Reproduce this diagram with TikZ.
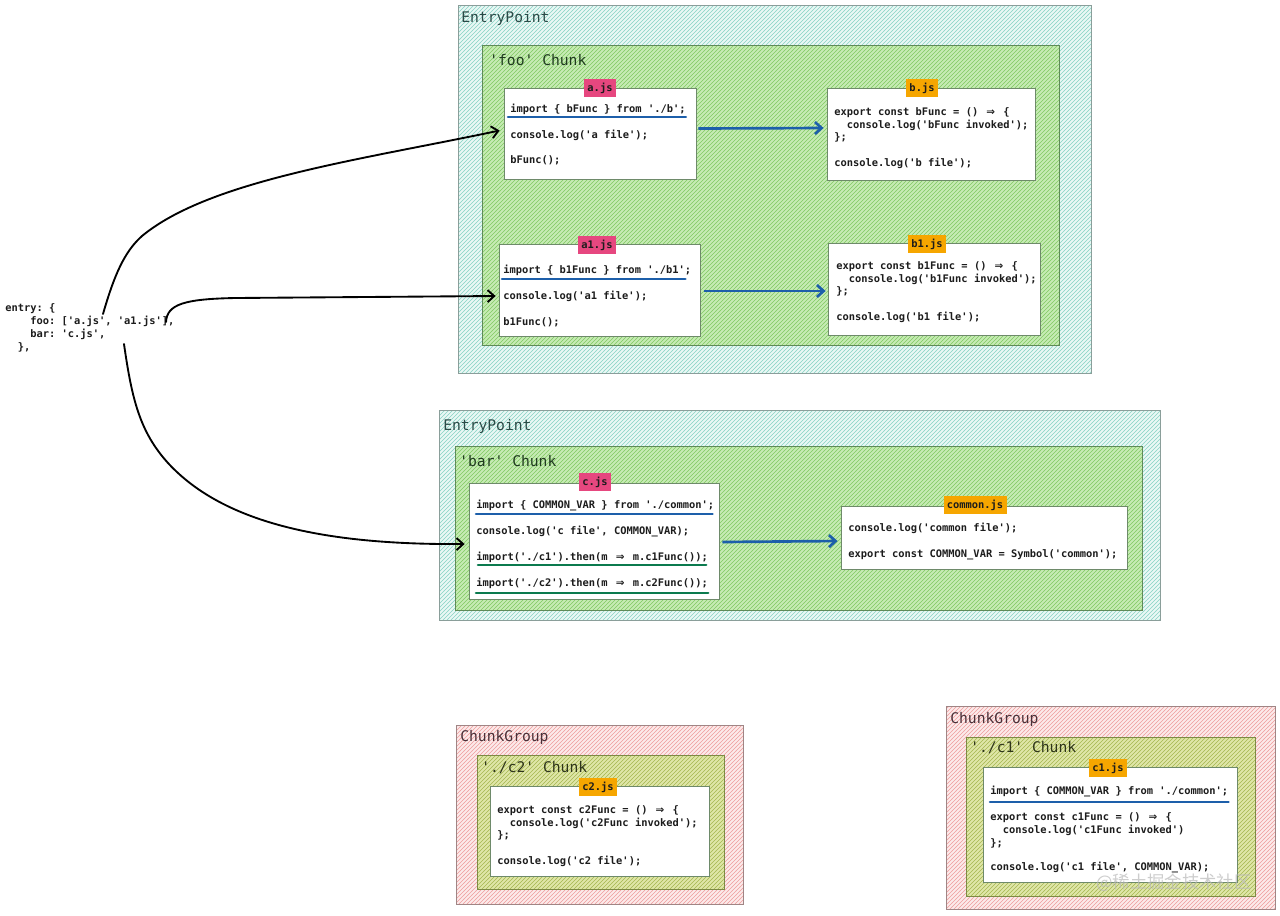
\documentclass[tikz,border=0pt]{standalone}
\usepackage{fontspec}
\setmonofont{DejaVu Sans Mono}
\newfontfamily\cjkwm{Noto Sans CJK SC}
\newfontfamily\arrowfont{DejaVu Sans}
\usetikzlibrary{fit,patterns,arrows.meta,calc}
\definecolor{epfill}{HTML}{EAF8F5}
\definecolor{ephatch}{HTML}{86D3C4}
\definecolor{epborder}{HTML}{8A9E9A}
\definecolor{eptext}{HTML}{2A4A46}
\definecolor{chfill}{HTML}{C6EBB4}
\definecolor{chhatch}{HTML}{80C862}
\definecolor{chborder}{HTML}{5F8A58}
\definecolor{chtext}{HTML}{1F3B1F}
\definecolor{grfill}{HTML}{FCEAEA}
\definecolor{grhatch}{HTML}{EE9C9C}
\definecolor{grborder}{HTML}{A08585}
\definecolor{grtext}{HTML}{4A3038}
\definecolor{olfill}{HTML}{DFE6A8}
\definecolor{olhatch}{HTML}{A5B650}
\definecolor{olborder}{HTML}{7D8A45}
\definecolor{oltext}{HTML}{2E351A}
\definecolor{boxborder}{HTML}{6E8A6A}
\definecolor{tagpinkc}{HTML}{E6477F}
\definecolor{tagorangec}{HTML}{F6A600}
\definecolor{codetext}{HTML}{1C1C1C}
\definecolor{ulblue}{HTML}{1D5FAA}
\definecolor{ulgreen}{HTML}{0B7A4E}
\newcommand{\cf}{\ttfamily\bfseries\fontsize{7.8}{9.75}\selectfont}
\newcommand{\tf}{\ttfamily\fontsize{11}{13}\selectfont}
\newcommand{\arr}{\makebox[1.2em]{\arrowfont\bfseries ⇒}}
\newcommand{\ind}{\phantom{xx}}
\tikzset{
  epregion/.style={draw=epborder, line width=0.7pt, inner sep=0pt, pattern=north east lines, pattern color=ephatch, preaction={fill=epfill}},
  chregion/.style={draw=chborder, line width=0.7pt, inner sep=0pt, pattern=north east lines, pattern color=chhatch, preaction={fill=chfill}},
  grregion/.style={draw=grborder, line width=0.7pt, inner sep=0pt, pattern=north east lines, pattern color=grhatch, preaction={fill=grfill}},
  olregion/.style={draw=olborder, line width=0.7pt, inner sep=0pt, pattern=north east lines, pattern color=olhatch, preaction={fill=olfill}},
  codebox/.style={draw=boxborder, line width=0.6pt, fill=white, inner sep=0pt},
  codeline/.style={anchor=base west, inner sep=0pt, font=\cf, text=codetext},
  ttl/.style={anchor=west, inner sep=0pt, font=\tf},
  tagbase/.style={font=\cf, text=codetext, inner xsep=2.5pt, inner ysep=0pt, minimum height=14pt},
  tagpink/.style={tagbase, fill=tagpinkc},
  tagorange/.style={tagbase, fill=tagorangec},
  bluearrow/.style={draw=ulblue, line width=2pt, -{Straight Barb[length=5pt,width=9pt]}},
  blackarrow/.style={draw=black, line width=1.4pt, line cap=round, -{Straight Barb[length=5pt,width=9pt]}},
  ulb/.style={draw=ulblue, line width=2pt, line cap=round},
  ulg/.style={draw=ulgreen, line width=2pt, line cap=round},
}
\begin{document}
\begin{tikzpicture}[x=0.75pt,y=-0.75pt]
\useasboundingbox[fill=white] (0,0) rectangle (1280,915);

% ---------- EntryPoint foo ----------
\node[epregion, fit={(458,5)(1091,373)}] (ep1) {};
\node[ttl, text=eptext] (ep1lbl) at (461,18) {EntryPoint};
\node[chregion, fit={(482,45)(1059,345)}] (foo) {};
\node[ttl, text=chtext] (foolbl) at (489,60) {'foo' Chunk};

% a.js
\node[codebox, fit={(504,88)(696,179)}] (abox) {};
\node[tagpink] (atag) at (600,88) {a.js};
\node[codeline] (aimp) at (510,112) {import \{ bFunc \} from './b';};
\draw[ulb] ($(aimp.base west)+(-2,5)$) -- ($(aimp.base east)+(0,5)$);
\node[codeline] (al2) at (510,138) {console.log('a file');};
\node[codeline] (al3) at (510,163) {bFunc();};

% b.js
\node[codebox, fit={(827,88)(1035,180)}] (bbox) {};
\node[tagorange] (btag) at (922,88) {b.js};
\node[codeline] (bl1) at (834,115) {export const bFunc = () \arr{} \{};
\node[codeline] (bl2) at (834,128) {\ind console.log('bFunc invoked');};
\node[codeline] (bl3) at (834,140) {\};};
\node[codeline] (bl4) at (834,166) {console.log('b file');};

% a1.js
\node[codebox, fit={(499,244)(700,336)}] (a1box) {};
\node[tagpink] (a1tag) at (597,245) {a1.js};
\node[codeline] (a1imp) at (503,273) {import \{ b1Func \} from './b1';};
\draw[ulb] ($(a1imp.base west)+(-1,6)$) -- ($(a1imp.base east)+(-6,6)$);
\node[codeline] (a1l2) at (503,299) {console.log('a1 file');};
\node[codeline] (a1l3) at (503,325) {b1Func();};

% b1.js
\node[codebox, fit={(828,243)(1040,335)}] (b1box) {};
\node[tagorange] (b1tag) at (927,244) {b1.js};
\node[codeline] (b1l1) at (836,269) {export const b1Func = () \arr{} \{};
\node[codeline] (b1l2) at (836,282) {\ind console.log('b1Func invoked');};
\node[codeline] (b1l3) at (836,294) {\};};
\node[codeline] (b1l4) at (836,320) {console.log('b1 file');};

\draw[bluearrow] ($(abox.east)+(2,-5)$) -- ($(bbox.west)+(-3,-6)$);
\draw[bluearrow] ($(a1box.east)+(4,1)$) -- ($(b1box.west)+(-2,2)$);

% ---------- EntryPoint bar ----------
\node[epregion, fit={(439,410)(1160,620)}] (ep2) {};
\node[ttl, text=eptext] (ep2lbl) at (443,426) {EntryPoint};
\node[chregion, fit={(455,446)(1142,610)}] (bar) {};
\node[ttl, text=chtext] (barlbl) at (459,461) {'bar' Chunk};

% c.js
\node[codebox, fit={(469,483)(719,599)}] (cbox) {};
\node[tagpink] (ctag) at (595,482) {c.js};
\node[codeline] (cimp) at (476,508) {import \{ COMMON\_VAR \} from './common';};
\draw[ulb] ($(cimp.base west)+(0,6)$) -- ($(cimp.base east)+(-2,6)$);
\node[codeline] (cl2) at (476,534) {console.log('c file', COMMON\_VAR);};
\node[codeline] (cl3) at (476,560) {import('./c1').then(m \arr{} m.c1Func());};
\draw[ulg] ($(cl3.base west)+(2,5)$) -- ($(cl3.base east)+(-2,5)$);
\node[codeline] (cl4) at (476,586) {import('./c2').then(m \arr{} m.c2Func());};
\draw[ulg] ($(cl4.base west)+(0,7)$) -- ($(cl4.base east)+(0,7)$);

% common.js
\node[codebox, fit={(841,506)(1127,569)}] (cmbox) {};
\node[tagorange] (cmtag) at (975,505) {common.js};
\node[codeline] (cml1) at (848,531) {console.log('common file');};
\node[codeline] (cml2) at (848,557) {export const COMMON\_VAR = Symbol('common');};

\draw[bluearrow] ($(cbox.east)+(3,1)$) -- ($(cmbox.west)+(-3,3.5)$);

% ---------- ChunkGroup c2 ----------
\node[grregion, fit={(456,725)(743,904)}] (g2) {};
\node[ttl, text=grtext] (g2lbl) at (460,737) {ChunkGroup};
\node[olregion, fit={(477,755)(724,889)}] (c2ch) {};
\node[ttl, text=oltext] (c2chlbl) at (481,768) {'./c2' Chunk};
\node[codebox, fit={(490,786)(709,876)}] (c2box) {};
\node[tagorange] (c2tag) at (598,787) {c2.js};
\node[codeline] (c2l1) at (497,813) {export const c2Func = () \arr{} \{};
\node[codeline] (c2l2) at (497,826) {\ind console.log('c2Func invoked');};
\node[codeline] (c2l3) at (497,838) {\};};
\node[codeline] (c2l4) at (497,864) {console.log('c2 file');};

% ---------- ChunkGroup c1 ----------
\node[grregion, fit={(946,706)(1275,909)}] (g1) {};
\node[ttl, text=grtext] (g1lbl) at (950,719) {ChunkGroup};
\node[olregion, fit={(966,737)(1255,896)}] (c1ch) {};
\node[ttl, text=oltext] (c1chlbl) at (970,748) {'./c1' Chunk};
\node[codebox, fit={(983,767)(1237,882)}] (c1box) {};
\node[tagorange] (c1tag) at (1108,768) {c1.js};
\node[codeline] (c1imp) at (990,794) {import \{ COMMON\_VAR \} from './common';};
\draw[ulb] ($(c1imp.base west)+(0,8)$) -- ($(c1imp.base east)+(0,8)$);
\node[codeline] (c1l2) at (990,820) {export const c1Func = () \arr{} \{};
\node[codeline] (c1l3) at (990,833) {\ind console.log('c1Func invoked')};
\node[codeline] (c1l4) at (990,846) {\};};
\node[codeline] (c1l5) at (990,870) {console.log('c1 file', COMMON\_VAR);};

% ---------- entry config ----------
\node[anchor=north west, inner sep=0pt, align=left, font=\cf, text=codetext] (entry) at (5,303)
  {entry: \{\\ \phantom{xxxx}foo: ['a.js', 'a1.js'],\\ \phantom{xxxx}bar: 'c.js',\\ \phantom{xx}\},};
\coordinate (fooa) at (103,314);
\coordinate (fooa1) at (166,322);
\coordinate (barc) at (124,344);

\draw[blackarrow] (fooa) .. controls (114,276) and (124,252) .. (142,236)
  .. controls (210,180) and (360,160) .. ($(abox.west)+(-4,-3)$);
\draw[blackarrow] (fooa1) .. controls (167,304) and (185,299) .. (235,298)
  -- ($(a1box.west)+(-3,6)$);
\draw[blackarrow] (barc) .. controls (132,400) and (140,432) .. (168,463)
  .. controls (225,525) and (330,545) .. ($(cbox.west)+(-4,3)$);

% watermark
\node[anchor=west, inner sep=0pt, text=gray!55, opacity=0.7, font=\cjkwm\fontsize{13}{13}\selectfont] (wm) at (1096,883) {@稀土掘金技术社区};
\end{tikzpicture}
\end{document}
